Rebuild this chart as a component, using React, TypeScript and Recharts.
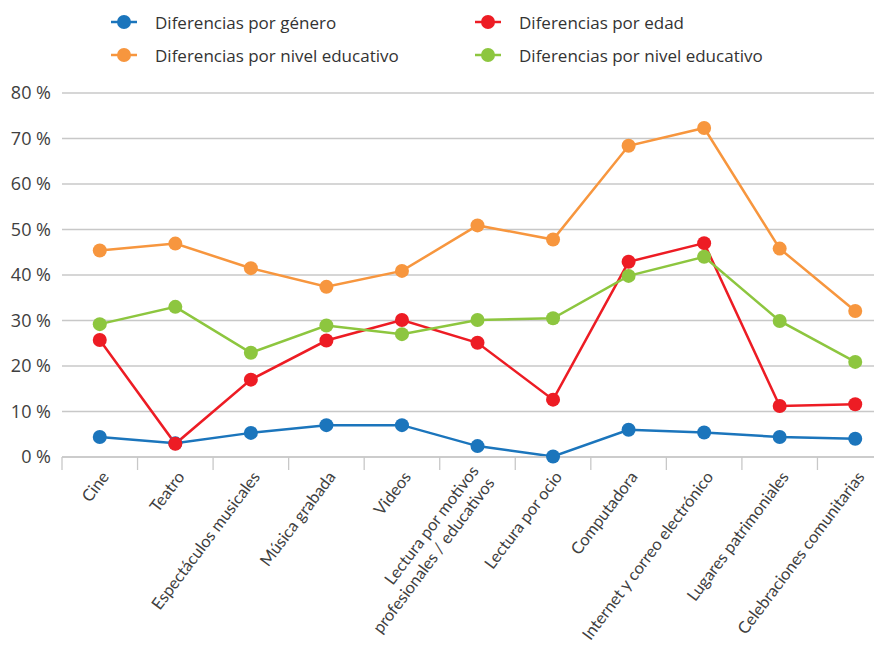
import React from 'react'
import { CartesianGrid, Line, LineChart, XAxis, YAxis } from 'recharts'

const categories = [
  'Cine',
  'Teatro',
  'Espectáculos musicales',
  'Música grabada',
  'Videos',
  'Lectura por motivos|profesionales / educativos',
  'Lectura por ocio',
  'Computadora',
  'Internet y correo electrónico',
  'Lugares patrimoniales',
  'Celebraciones comunitarias',
]

const genero = [4.4, 3.0, 5.3, 7.0, 7.0, 2.4, 0.1, 6.0, 5.4, 4.4, 4.0]
const edad = [25.7, 2.9, 17.0, 25.6, 30.1, 25.1, 12.6, 42.9, 47.0, 11.2, 11.6]
const nivelA = [45.4, 46.9, 41.5, 37.4, 40.9, 50.9, 47.8, 68.4, 72.3, 45.8, 32.1]
const nivelB = [29.2, 33.0, 22.9, 28.9, 27.0, 30.1, 30.5, 39.8, 44.0, 29.9, 20.9]

const yTicks = [0, 10, 20, 30, 40, 50, 60, 70, 80]

const series = [
  { key: 'genero', name: 'Diferencias por género', color: '#1b75bc' },
  { key: 'edad', name: 'Diferencias por edad', color: '#ed1c24' },
  { key: 'nivelA', name: 'Diferencias por nivel educativo', color: '#f7963e' },
  { key: 'nivelB', name: 'Diferencias por nivel educativo', color: '#8dc63f' },
]

const data = categories.map((c, i) => ({
  name: c,
  genero: genero[i],
  edad: edad[i],
  nivelA: nivelA[i],
  nivelB: nivelB[i],
}))

const FONT = '"Open Sans", "Noto Sans", sans-serif'
const LABEL_FONT = 'Lato, "Open Sans", sans-serif'
const W = 900
const H = 648
const LEFT = 62
const RIGHT = 7
const BAND = (W - LEFT - RIGHT) / categories.length

const renderXTick = ({ x, y, payload }: any) => {
  const lines = String(payload.value).split('|')
  const left = x - BAND / 2
  return (
    <g>
      <line x1={left} y1={y - 8} x2={left} y2={y + 5} stroke="#c8c8c8" strokeWidth={1.3} />
      <text
        x={0}
        y={0}
        transform={`translate(${x + 6},${y + 9}) rotate(-53)`}
        textAnchor="end"
        fontSize={16.5}
        fill="#404040"
        fontFamily={LABEL_FONT}
      >
        {lines.length === 1 ? (
          <tspan x={0} dy="0.3em">{lines[0]}</tspan>
        ) : (
          lines.map((l, i) => (
            <tspan key={i} x={0} dy={i === 0 ? '-0.3em' : '1.2em'}>
              {l}
            </tspan>
          ))
        )}
      </text>
    </g>
  )
}

const Legend2 = () => (
  <div style={{ position: 'absolute', left: 0, top: 0, width: 882, height: 80, fontFamily: FONT }}>
    {series.map((s, i) => {
      const col = i % 2
      const row = Math.floor(i / 2)
      const cx = col === 0 ? 124 : 488
      const cy = row === 0 ? 22 : 55
      return (
        <div key={i} style={{ position: 'absolute', left: cx - 14, top: cy - 12, height: 24, display: 'flex', alignItems: 'center' }}>
          <svg width={28} height={24}>
            <line x1={1} y1={12} x2={27} y2={12} stroke={s.color} strokeWidth={2.5} />
            <circle cx={14} cy={12} r={7} fill={s.color} />
          </svg>
          <span style={{ marginLeft: 17, fontSize: 17, color: '#333', whiteSpace: 'nowrap' }}>{s.name}</span>
        </div>
      )
    })}
  </div>
)

const App = () => {
  return (
    <div style={{ margin: -8, width: 882, height: 648, overflow: 'hidden', position: 'relative', background: '#fff' }}>
      <Legend2 />
      <LineChart
        width={W}
        height={H}
        data={data}
        margin={{ top: 93, right: RIGHT, left: 0, bottom: 0 }}
      >
        <CartesianGrid vertical={false} stroke="#c8c8c8" strokeWidth={1.3} />
        <XAxis
          dataKey="name"
          interval={0}
          tick={renderXTick}
          tickLine={false}
          padding={{ left: BAND / 2, right: BAND / 2 }}
          axisLine={{ stroke: '#c8c8c8', strokeWidth: 1.3 }}
          height={191}
        />
        <YAxis
          width={LEFT}
          domain={[0, 80]}
          ticks={yTicks}
          interval={0}
          tickFormatter={(v) => `${v} %`}
          axisLine={false}
          tickLine={false}
          tickMargin={5}
          tick={{ fontSize: 18, fill: '#404040', fontFamily: FONT }}
        />
        {series.map((s) => (
          <Line
            key={s.key}
            dataKey={s.key}
            name={s.name}
            stroke={s.color}
            strokeWidth={2.5}
            dot={{ r: 7, fill: s.color, stroke: s.color, strokeWidth: 0 }}
            activeDot={false}
            isAnimationActive={false}
          />
        ))}
      </LineChart>
    </div>
  )
}

export default App
